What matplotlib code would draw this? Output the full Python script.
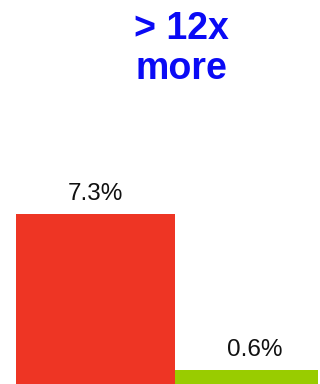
import matplotlib
matplotlib.use("Agg")
import matplotlib.pyplot as plt

categories = ["A", "B"]
values = [7.3, 0.6]
labels = ["7.3%", "0.6%"]
lefts = [0.0, 1.0]
widths = [1.0, 0.9]
colors = ["#EE3524", "#99CC00"]
title = "> 12x\nmore"

plt.rcParams['font.family'] = ['Liberation Sans', 'DejaVu Sans']
fig = plt.figure(figsize=(3.2, 3.84), dpi=100)
ax = fig.add_axes([0, 0, 1, 1])
ax.bar(lefts, values, width=widths, align='edge', color=colors)
px = 159.0
ax.set_xlim(-16 / px, (320 - 16) / px)
ppu = 170 / 7.3
ax.set_ylim(0, 384 / ppu)
for l, w, v, t in zip(lefts, widths, values, labels):
    ax.text(l + 0.5, v + 0.4, t, ha='center', va='bottom', fontsize=17.5, color='#111111')
ax.text((181 - 16) / px, 384 / ppu - 49 / ppu, title, ha='center', va='center',
        fontsize=27, fontweight='bold', color='#0A0AF5', linespacing=1.15)
ax.axis('off')
fig.savefig("out.png", dpi=100)
